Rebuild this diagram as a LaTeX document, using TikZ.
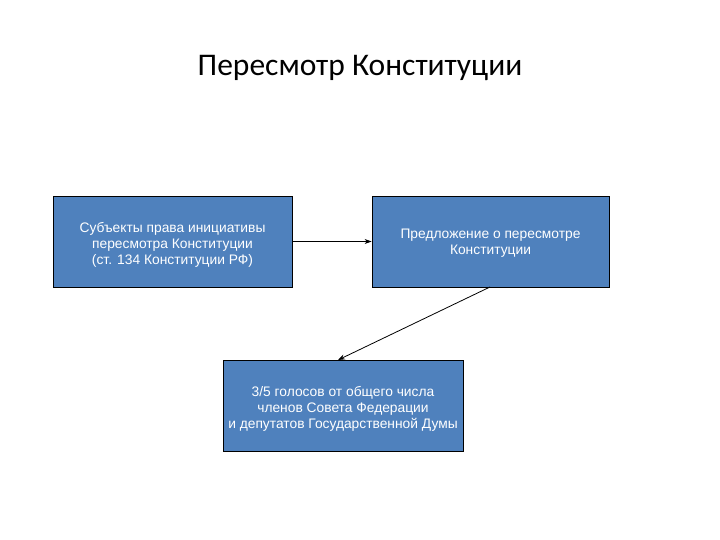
\documentclass[tikz,border=0pt]{standalone}
\usepackage{fontspec}
\setmainfont{Liberation Sans}
\newfontfamily\titlefont{Carlito}
\usetikzlibrary{arrows.meta}
\definecolor{boxblue}{HTML}{4F81BD}
\begin{document}
\begin{tikzpicture}[x=1pt,y=-1pt,
  bluebox/.style={draw=black, line width=0.8pt, fill=boxblue,
    minimum width=239pt, minimum height=91pt, inner sep=0pt},
  boxtext/.style={text=white, inner sep=0pt, align=center,
    font=\fontsize{13.8}{16}\selectfont},
  conn/.style={-{Stealth[length=7pt,width=5pt]}, line width=0.8pt}]
\useasboundingbox (0,0) rectangle (720,540);
\node[font=\titlefont\fontsize{31.5}{36}\selectfont] (title) at (360,68) {Пересмотр Конституции};
\node[bluebox] (b1) at (172.5,241.5) {};
\node[boxtext] (t1) at ([yshift=-3.5pt]b1.center) {Субъекты права инициативы\\пересмотра Конституции\\(ст. 134 Конституции РФ)};
\node[bluebox, minimum width=237pt] (b2) at (490.5,241.5) {};
\node[boxtext] (t2) at ([yshift=-1.5pt]b2.center) {Предложение о пересмотре\\Конституции};
\node[bluebox, minimum width=240pt] (b3) at (343,405.5) {};
\node[boxtext] (t3) at ([yshift=-3.5pt]b3.center) {3/5 голосов от общего числа\\членов Совета Федерации\\и депутатов Государственной Думы};
\draw[conn] (b1.east) -- (b2.west);
\coordinate (s2) at (490,287);
\coordinate (e3) at (338,360);
\draw[conn] (s2) -- (e3);
\end{tikzpicture}
\end{document}
